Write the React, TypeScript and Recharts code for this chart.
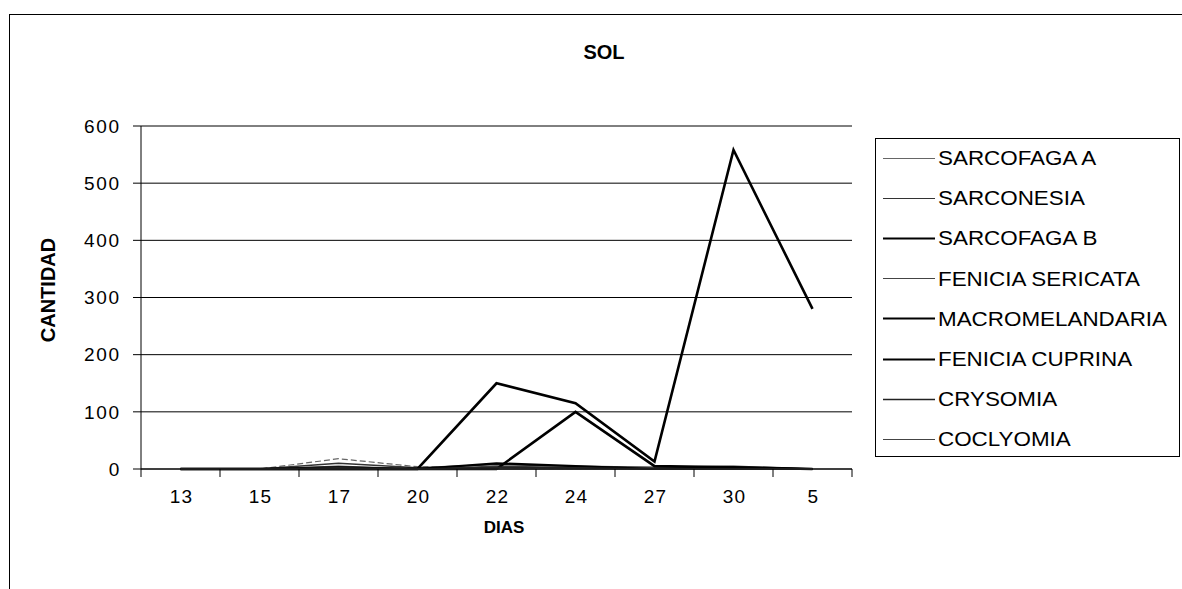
import React from "react";
import { LineChart, Line, XAxis, YAxis, CartesianGrid } from "recharts";

const days = ["13", "15", "17", "20", "22", "24", "27", "30", "5"];
const sarcofagaA = [0, 0, 18, 4, 2, 0, 0, 0, 0];
const sarconesia = [0, 0, 10, 2, 8, 5, 3, 5, 0];
const sarcofagaB = [0, 0, 0, 0, 150, 115, 13, 558, 280];
const feniciaSericata = [0, 0, 5, 0, 5, 3, 2, 3, 0];
const macromelandaria = [0, 0, 3, 0, 10, 5, 0, 2, 0];
const feniciaCuprina = [0, 0, 0, 0, 0, 100, 5, 3, 0];
const crysomia = [0, 0, 2, 0, 3, 2, 0, 0, 0];
const coclyomia = [0, 0, 0, 0, 0, 0, 0, 0, 0];
const yTicks = [0, 100, 200, 300, 400, 500, 600];

const seriesNames = [
  "SARCOFAGA A",
  "SARCONESIA",
  "SARCOFAGA B",
  "FENICIA SERICATA",
  "MACROMELANDARIA",
  "FENICIA CUPRINA",
  "CRYSOMIA",
  "COCLYOMIA",
];
const seriesValues = [
  sarcofagaA,
  sarconesia,
  sarcofagaB,
  feniciaSericata,
  macromelandaria,
  feniciaCuprina,
  crysomia,
  coclyomia,
];
const seriesStyles = [
  { stroke: "#666", width: 1.2, dash: "6 3" },
  { stroke: "#333", width: 1.5, dash: "" },
  { stroke: "#000", width: 2.6, dash: "" },
  { stroke: "#444", width: 1.3, dash: "" },
  { stroke: "#000", width: 2.2, dash: "" },
  { stroke: "#000", width: 2.6, dash: "" },
  { stroke: "#222", width: 1.6, dash: "" },
  { stroke: "#444", width: 1.3, dash: "" },
];

const data = days.map((d, i) => {
  const row: Record<string, string | number> = { dia: d };
  seriesNames.forEach((n, k) => {
    row[n] = seriesValues[k][i];
  });
  return row;
});

const FONT = "'Liberation Sans', Arial, sans-serif";
const X_TICK_SIZE = 8;
const X_TICK_MARGIN = 13;

const XTick = (props: any) => {
  const { x, y, payload, index, visibleTicksCount } = props;
  const off = payload && payload.offset ? payload.offset : 0;
  const axisY = y - X_TICK_SIZE - X_TICK_MARGIN;
  const last = index === (visibleTicksCount ?? days.length) - 1;
  return (
    <g>
      <line x1={x - off} x2={x - off} y1={axisY} y2={axisY + X_TICK_SIZE} stroke="#000" strokeWidth={1} />
      {last && (
        <line x1={x + off} x2={x + off} y1={axisY} y2={axisY + X_TICK_SIZE} stroke="#000" strokeWidth={1} />
      )}
      <text
        x={x + 1}
        y={y}
        dy="0.71em"
        textAnchor="middle"
        fill="#000"
        fontSize={19}
        letterSpacing={1.2}
        fontFamily={FONT}
      >
        {payload.value}
      </text>
    </g>
  );
};

export default function App() {
  return (
    <div
      style={{
        position: "absolute",
        left: 0,
        top: 0,
        width: 1182,
        height: 589,
        overflow: "hidden",
        background: "#fff",
        fontFamily: FONT,
      }}
    >
      <div
        style={{
          position: "absolute",
          left: 9,
          top: 14,
          width: 1200,
          height: 600,
          border: "1px solid #000",
        }}
      />
      <LineChart
        width={1182}
        height={589}
        data={data}
        margin={{ top: 126, right: 330, bottom: 90, left: 81 }}
        style={{ position: "absolute", left: 0, top: 0 }}
      >
        <CartesianGrid vertical={false} stroke="#000" strokeWidth={1} />
        <XAxis
          dataKey="dia"
          scale="band"
          height={30}
          axisLine={{ stroke: "#000", strokeWidth: 1 }}
          tickLine={false}
          tickSize={X_TICK_SIZE}
          tickMargin={X_TICK_MARGIN}
          tick={<XTick />}
          interval={0}
        />
        <YAxis
          width={60}
          domain={[0, 600]}
          ticks={yTicks}
          interval={0}
          axisLine={{ stroke: "#000", strokeWidth: 1 }}
          tickLine={{ stroke: "#000", strokeWidth: 1 }}
          tickSize={8}
          tickMargin={12}
          tick={{ fill: "#000", fontSize: 19, fontFamily: FONT, letterSpacing: 1.8 }}
        />
        <YAxis
          yAxisId="right"
          orientation="right"
          width={0}
          domain={[0, 600]}
          tick={false}
          tickLine={false}
          axisLine={{ stroke: "#000", strokeWidth: 1 }}
        />
        {seriesNames.map((n, k) => (
          <Line
            key={n}
            type="linear"
            dataKey={n}
            stroke={seriesStyles[k].stroke}
            strokeWidth={seriesStyles[k].width}
            strokeDasharray={seriesStyles[k].dash || undefined}
            dot={false}
            activeDot={false}
            isAnimationActive={false}
          />
        ))}
      </LineChart>

      <div
        style={{
          position: "absolute",
          left: 604,
          top: 52,
          transform: "translate(-50%, -50%)",
          fontSize: 20,
          fontWeight: "bold",
          whiteSpace: "nowrap",
        }}
      >
        SOL
      </div>
      <div
        style={{
          position: "absolute",
          left: 48,
          top: 290,
          transform: "translate(-50%, -50%) rotate(-90deg)",
          fontSize: 20,
          fontWeight: "bold",
          whiteSpace: "nowrap",
        }}
      >
        CANTIDAD
      </div>
      <div
        style={{
          position: "absolute",
          left: 504,
          top: 528,
          transform: "translate(-50%, -50%)",
          fontSize: 17,
          fontWeight: "bold",
          whiteSpace: "nowrap",
        }}
      >
        DIAS
      </div>

      <div
        style={{
          position: "absolute",
          left: 875,
          top: 138,
          width: 305,
          height: 319,
          border: "1px solid #000",
          boxSizing: "border-box",
        }}
      >
        {seriesNames.map((n, k) => (
          <div
            key={n}
            style={{
              position: "absolute",
              left: 7,
              top: 19 + k * 40.2,
              transform: "translateY(-50%)",
              display: "flex",
              alignItems: "center",
              whiteSpace: "nowrap",
            }}
          >
            <svg width={52} height={4} style={{ marginRight: 3 }}>
              <line
                x1={0}
                x2={52}
                y1={2}
                y2={2}
                stroke={seriesStyles[k].stroke}
                strokeWidth={Math.max(1.2, seriesStyles[k].width * 0.8)}
              />
            </svg>
            <span
              style={{
                fontSize: 20,
                color: "#000",
                display: "inline-block",
                transform: "scaleX(1.12)",
                transformOrigin: "left center",
              }}
            >
              {n}
            </span>
          </div>
        ))}
      </div>
    </div>
  );
}
